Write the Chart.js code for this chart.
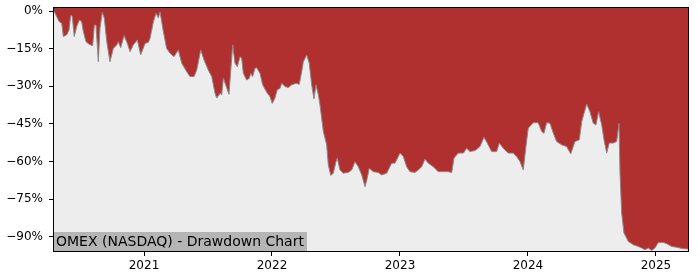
<!DOCTYPE html>
<html>
<head>
<meta charset="utf-8">
<script src="https://cdn.jsdelivr.net/npm/chart.js@4/dist/chart.umd.min.js"></script>
<style>
  html, body { margin: 0; padding: 0; background: #fff; }
  #wrap { width: 700px; height: 280px; }
</style>
</head>
<body>
<div id="wrap"><canvas id="dd"></canvas></div>
<script>
// time axis in decimal years
const dates = [
  2020.289, 2020.297, 2020.318, 2020.338, 2020.357, 2020.370, 2020.396, 2020.414, 2020.427, 2020.440,
  2020.455, 2020.474, 2020.495, 2020.513, 2020.526, 2020.547, 2020.573, 2020.599, 2020.612, 2020.625,
  2020.643, 2020.656, 2020.674, 2020.690, 2020.709, 2020.734, 2020.760, 2020.787, 2020.799, 2020.818,
  2020.844, 2020.870, 2020.891, 2020.916, 2020.948, 2020.974, 2021.008, 2021.034, 2021.047, 2021.073,
  2021.094, 2021.112, 2021.125, 2021.151, 2021.177, 2021.203, 2021.234, 2021.268, 2021.295, 2021.334,
  2021.359, 2021.391, 2021.412, 2021.443, 2021.469, 2021.502, 2021.529, 2021.555, 2021.568, 2021.594,
  2021.607, 2021.620, 2021.638, 2021.664, 2021.677, 2021.693, 2021.711, 2021.729, 2021.750, 2021.763,
  2021.776, 2021.802, 2021.823, 2021.834, 2021.849, 2021.867, 2021.880, 2021.906, 2021.927, 2021.959,
  2021.984, 2022.002, 2022.023, 2022.041, 2022.063, 2022.076, 2022.102, 2022.127, 2022.154, 2022.188,
  2022.213, 2022.232, 2022.245, 2022.271, 2022.291, 2022.310, 2022.328, 2022.344, 2022.362, 2022.375,
  2022.401, 2022.427, 2022.440, 2022.459, 2022.479, 2022.500, 2022.510, 2022.531, 2022.557, 2022.596,
  2022.623, 2022.648, 2022.674, 2022.701, 2022.727, 2022.744, 2022.760, 2022.791, 2022.830, 2022.857,
  2022.896, 2022.935, 2022.961, 2023.000, 2023.026, 2023.052, 2023.078, 2023.117, 2023.143, 2023.170,
  2023.195, 2023.221, 2023.260, 2023.299, 2023.338, 2023.377, 2023.404, 2023.422, 2023.455, 2023.495,
  2023.521, 2023.547, 2023.586, 2023.625, 2023.656, 2023.682, 2023.716, 2023.755, 2023.776, 2023.807,
  2023.846, 2023.885, 2023.912, 2023.938, 2023.963, 2023.984, 2024.002, 2024.041, 2024.080, 2024.107,
  2024.125, 2024.146, 2024.172, 2024.198, 2024.224, 2024.263, 2024.302, 2024.334, 2024.367, 2024.401,
  2024.420, 2024.438, 2024.459, 2024.484, 2024.510, 2024.531, 2024.552, 2024.576, 2024.594, 2024.615,
  2024.635, 2024.666, 2024.693, 2024.711, 2024.719, 2024.732, 2024.750, 2024.784, 2024.823, 2024.862,
  2024.888, 2024.914, 2024.940, 2024.966, 2024.992, 2025.018, 2025.057, 2025.084, 2025.123, 2025.162,
  2025.201, 2025.240, 2025.258
];

// drawdown in percent
const drawdown = [
  0.0, 0.0, -2.3, -4.3, -4.9, -10.2, -9.5, -7.6, -1.6, -2.3,
  -10.2, -6.2, -3.6, -4.3, -8.2, -12.2, -13.3, -13.8, -5.6, -5.6,
  -20.2, -6.9, -0.5, -2.9, -12.2, -20.2, -14.9, -13.5, -12.2, -14.6,
  -9.8, -12.9, -16.2, -13.5, -11.5, -17.5, -12.9, -12.5, -10.9, -4.3,
  -0.9, -2.7, -0.3, -8.2, -14.9, -16.8, -18.2, -15.5, -20.8, -24.2,
  -26.1, -26.1, -23.5, -15.5, -19.5, -23.5, -26.1, -32.8, -34.7, -32.8,
  -33.4, -26.8, -29.4, -33.2, -24.2, -13.5, -20.8, -22.2, -18.2, -18.8,
  -24.8, -27.5, -26.8, -24.8, -26.1, -22.8, -22.6, -24.8, -29.4, -32.4,
  -34.1, -36.8, -34.7, -31.4, -30.8, -28.8, -30.1, -30.5, -29.4, -28.8,
  -29.2, -24.2, -20.2, -17.5, -20.8, -29.4, -35.0, -29.4, -33.4, -37.4,
  -48.0, -53.3, -61.3, -65.5, -64.6, -60.0, -58.6, -63.3, -64.6, -64.3,
  -63.3, -60.0, -62.0, -65.3, -70.0, -66.6, -62.6, -64.0, -64.3, -65.3,
  -64.6, -60.6, -60.6, -56.6, -58.0, -62.0, -64.0, -64.3, -63.3, -62.0,
  -59.0, -60.6, -62.0, -64.0, -64.0, -64.0, -64.3, -58.6, -56.6, -56.6,
  -54.7, -56.0, -55.6, -54.0, -50.3, -52.6, -56.0, -56.0, -52.6, -54.7,
  -56.6, -56.6, -58.0, -60.0, -63.3, -54.0, -46.7, -44.5, -44.5, -48.0,
  -48.7, -44.5, -44.7, -48.7, -52.0, -53.3, -54.0, -56.9, -52.0, -51.3,
  -44.0, -40.7, -37.0, -40.1, -44.7, -45.4, -40.1, -45.4, -51.3, -56.6,
  -52.6, -52.6, -52.0, -44.7, -64.6, -80.5, -88.4, -91.8, -93.1, -93.8,
  -94.4, -95.1, -94.4, -95.4, -94.4, -92.2, -92.2, -92.7, -93.8, -94.1,
  -94.6, -94.8, -94.8
];

const yTicks = [0, -15, -30, -45, -60, -75, -90];
const xTicks = [2021, 2022, 2023, 2024, 2025];
const chartTitle = 'OMEX (NASDAQ) - Drawdown Chart';

const FONT = 'DejaVu Sans';

// light grey background under the plot, black frame and label box
const framePlugin = {
  id: 'frame',
  beforeDatasetsDraw(chart) {
    const a = chart.chartArea;
    const ctx = chart.ctx;
    ctx.save();
    ctx.fillStyle = '#ededed';
    ctx.fillRect(a.left, a.top, a.right - a.left, a.bottom - a.top);
    ctx.restore();
  },
  afterDraw(chart) {
    const a = chart.chartArea;
    const ctx = chart.ctx;
    ctx.save();
    ctx.font = '14px "' + FONT + '"';
    const w = ctx.measureText(chartTitle).width;
    ctx.fillStyle = '#b5b5b5';
    ctx.fillRect(a.left, a.bottom - 20, w + 6, 20);
    ctx.fillStyle = '#000';
    ctx.textBaseline = 'middle';
    ctx.fillText(chartTitle, a.left + 3, a.bottom - 10);
    ctx.strokeStyle = '#000';
    ctx.lineWidth = 1;
    ctx.strokeRect(a.left + 0.5, a.top + 0.5, a.right - a.left - 1, a.bottom - a.top - 1);
    ctx.restore();
  }
};

new Chart(document.getElementById('dd'), {
  type: 'line',
  data: {
    datasets: [{
      data: dates.map((d, i) => ({ x: d, y: drawdown[i] })),
      borderColor: '#8a8a8a',
      borderWidth: 1,
      backgroundColor: '#b03030',
      fill: 'end',
      pointRadius: 0,
      tension: 0
    }]
  },
  options: {
    responsive: true,
    maintainAspectRatio: false,
    animation: false,
    layout: { padding: { top: 7, right: 11, left: 0, bottom: 0 } },
    plugins: { legend: { display: false }, tooltip: { enabled: false } },
    scales: {
      x: {
        type: 'linear',
        min: 2020.289,
        max: 2025.258,
        afterBuildTicks: s => { s.ticks = xTicks.map(v => ({ value: v })); },
        afterFit: s => { s.height = 28; s.paddingLeft = 0; s.paddingRight = 0; },
        grid: { drawOnChartArea: false, drawTicks: true, tickLength: 4, color: '#000' },
        border: { display: false },
        ticks: {
          color: '#000',
          padding: 3,
          maxRotation: 0,
          font: { family: FONT, size: 12 },
          callback: v => String(v)
        }
      },
      y: {
        min: -96,
        max: 1.6,
        afterBuildTicks: s => { s.ticks = yTicks.map(v => ({ value: v })); },
        afterFit: s => { s.width = 53; s.paddingTop = 0; s.paddingBottom = 0; },
        grid: { drawOnChartArea: false, drawTicks: true, tickLength: 4, color: '#000' },
        border: { display: false },
        ticks: {
          color: '#000',
          padding: 6,
          font: { family: FONT, size: 12 },
          callback: v => (v < 0 ? '\u2212' + Math.abs(v) : v) + '%'
        }
      }
    }
  },
  plugins: [framePlugin]
});
</script>
</body>
</html>
